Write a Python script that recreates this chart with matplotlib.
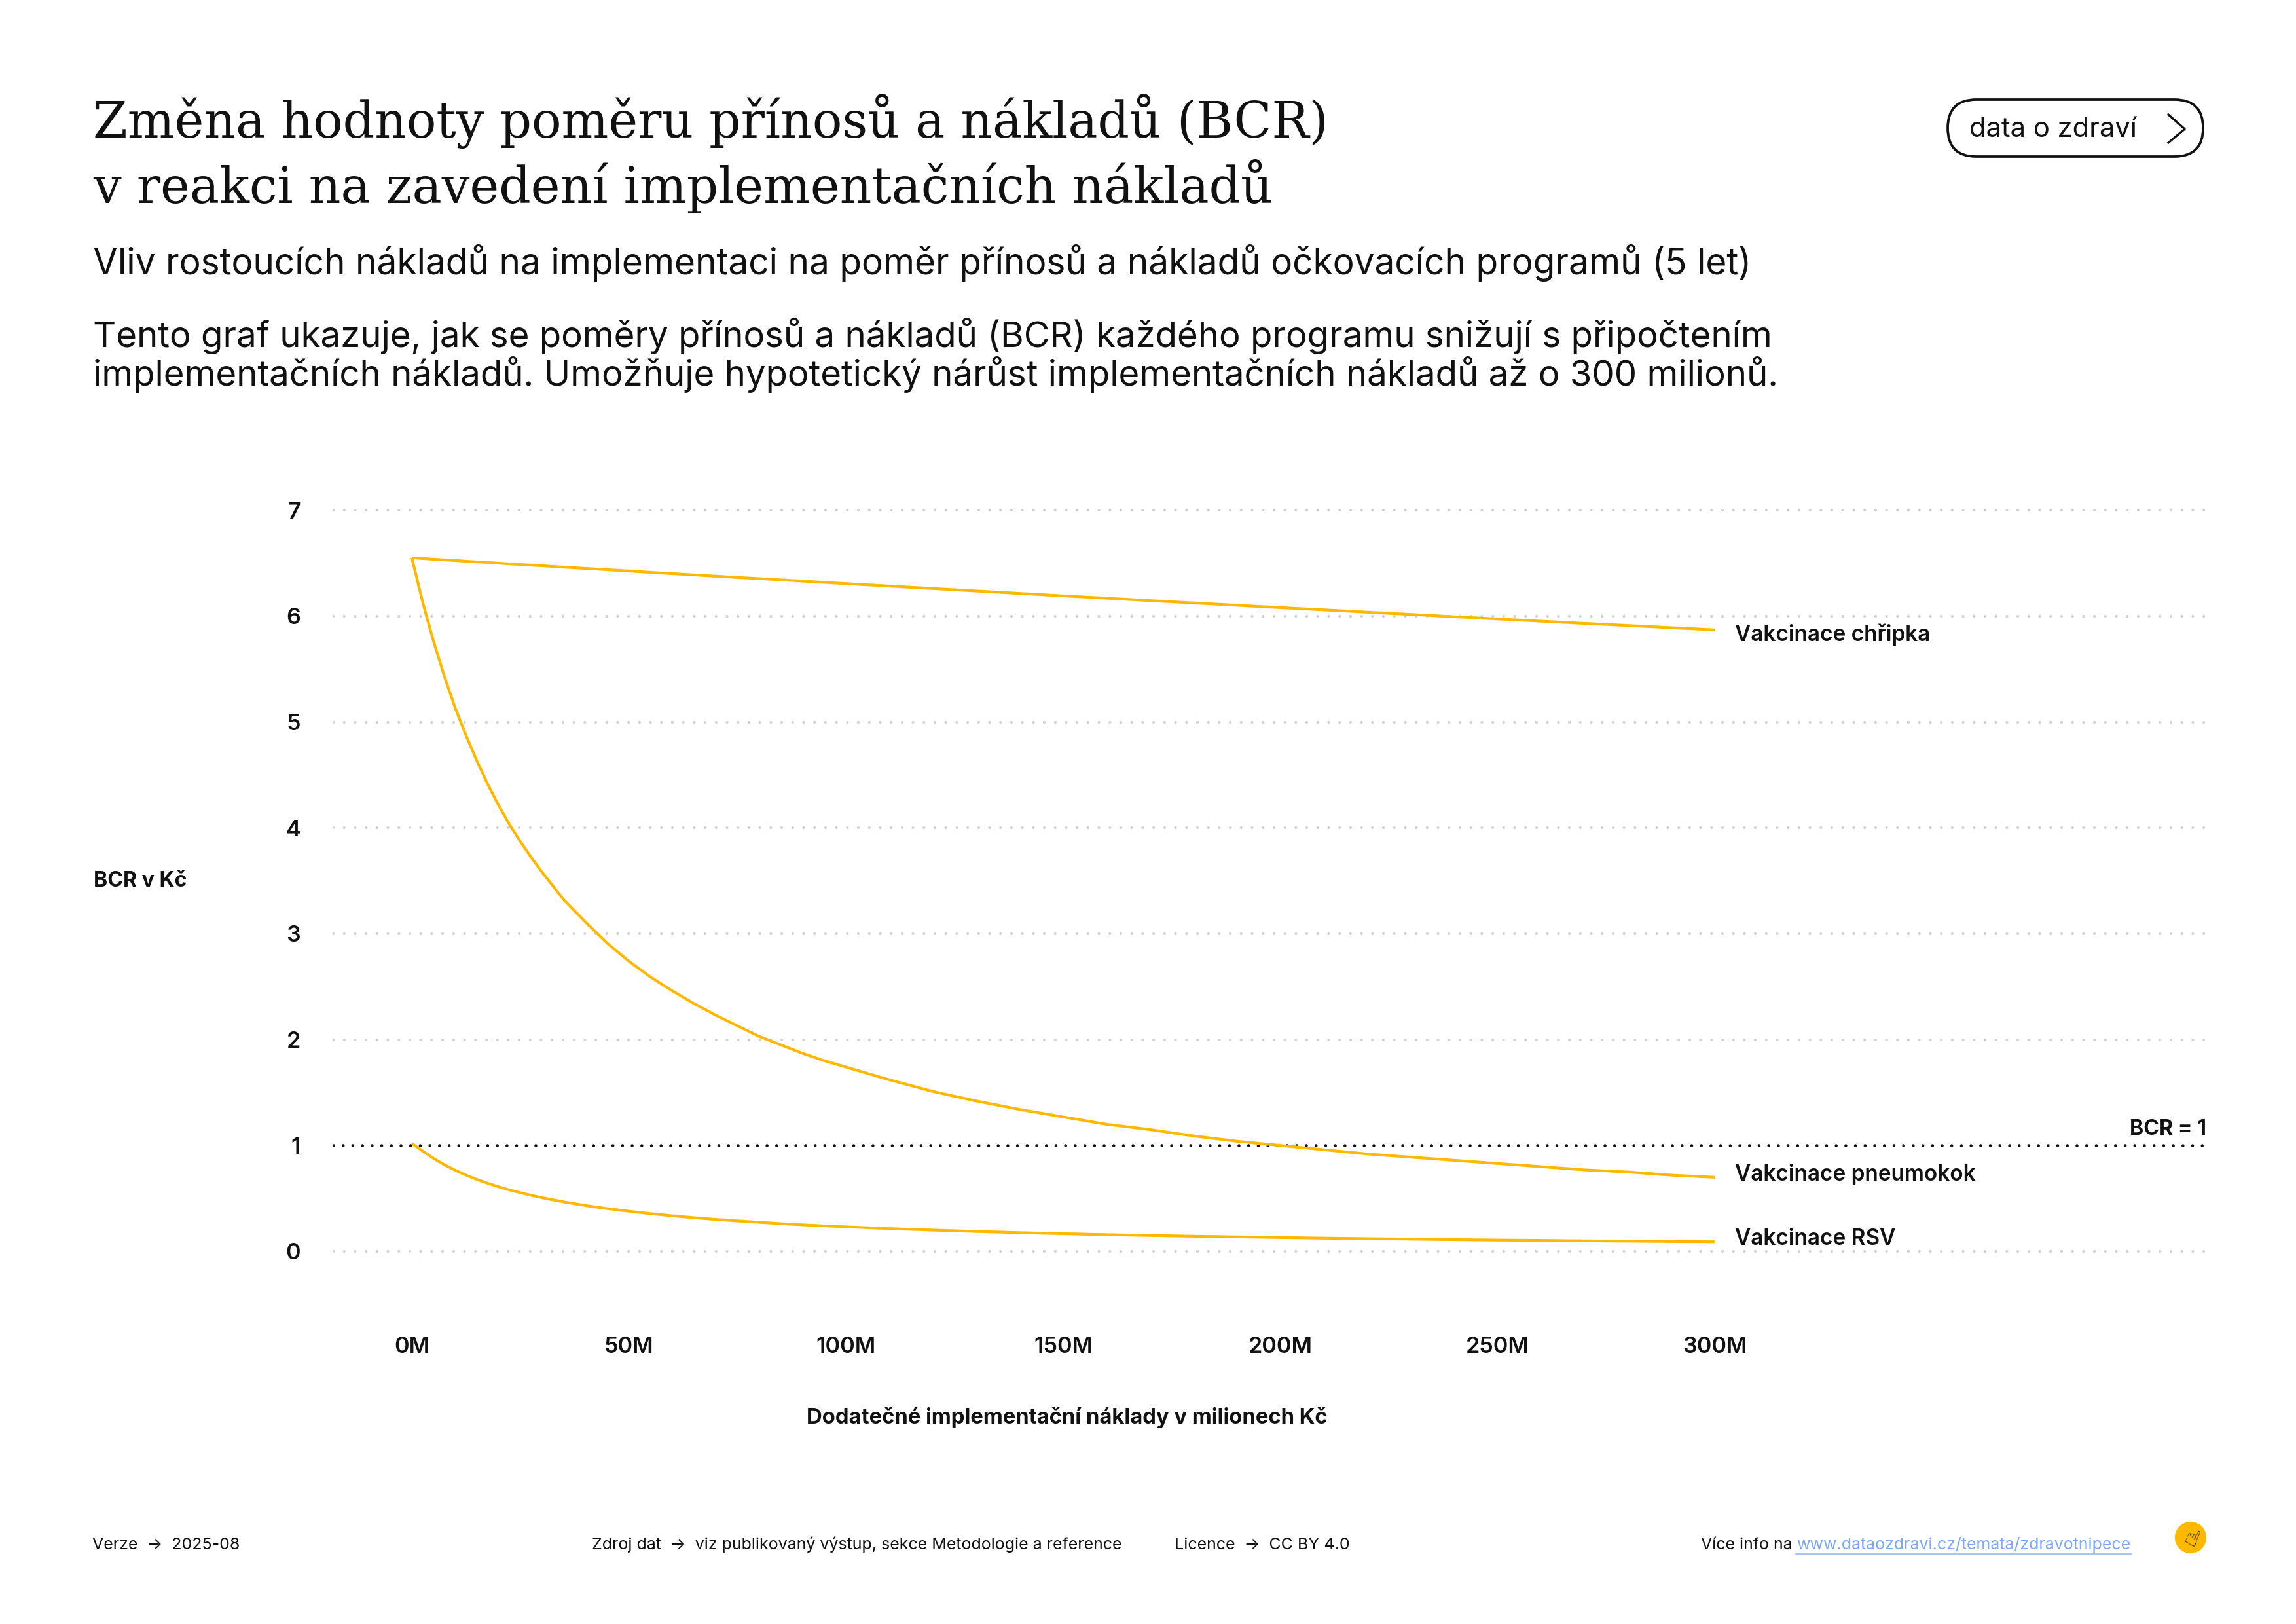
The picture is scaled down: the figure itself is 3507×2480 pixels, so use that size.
import matplotlib
matplotlib.use("Agg")
import matplotlib.pyplot as plt
from matplotlib.patches import FancyBboxPatch, Circle

# ---------------- data ----------------
x_costs = [0, 2.5, 5, 7.5, 10, 12.5, 15, 17.5, 20, 22.5, 25, 27.5, 30, 35, 40, 45,
           50, 55, 60, 65, 70, 75, 80, 85, 90, 95, 100, 110, 120, 130, 140, 150,
           160, 170, 180, 190, 200, 210, 220, 230, 240, 250, 260, 270, 280, 290, 300]
bcr_chripka = [6.550, 6.544, 6.537, 6.531, 6.525, 6.518, 6.512, 6.506, 6.500, 6.493,
               6.487, 6.481, 6.475, 6.462, 6.450, 6.438, 6.426, 6.413, 6.401, 6.389,
               6.377, 6.365, 6.354, 6.342, 6.330, 6.318, 6.306, 6.283, 6.260, 6.237,
               6.214, 6.191, 6.169, 6.146, 6.124, 6.102, 6.080, 6.059, 6.037, 6.016,
               5.994, 5.973, 5.952, 5.931, 5.911, 5.890, 5.870]
bcr_pneumokok = [6.55, 6.13, 5.76, 5.43, 5.13, 4.87, 4.63, 4.41, 4.21, 4.03,
                 3.87, 3.72, 3.58, 3.32, 3.11, 2.91, 2.74, 2.59, 2.46, 2.34,
                 2.23, 2.13, 2.03, 1.95, 1.87, 1.80, 1.74, 1.62, 1.51, 1.42,
                 1.34, 1.27, 1.20, 1.15, 1.09, 1.04, 1.00, 0.96, 0.92, 0.89,
                 0.86, 0.83, 0.80, 0.77, 0.75, 0.72, 0.70]
bcr_rsv = [1.02, 0.948, 0.878, 0.818, 0.766, 0.720, 0.679, 0.643, 0.610, 0.580,
           0.554, 0.529, 0.507, 0.467, 0.433, 0.404, 0.379, 0.356, 0.336, 0.318,
           0.302, 0.288, 0.275, 0.262, 0.251, 0.241, 0.232, 0.215, 0.201, 0.188,
           0.177, 0.167, 0.158, 0.150, 0.143, 0.137, 0.131, 0.125, 0.120, 0.116,
           0.111, 0.107, 0.104, 0.100, 0.097, 0.094, 0.091]
series_names = ["Vakcinace chřipka", "Vakcinace pneumokok", "Vakcinace RSV"]
x_ticks = [0, 50, 100, 150, 200, 250, 300]
x_tick_labels = ["0M", "50M", "100M", "150M", "200M", "250M", "300M"]
y_ticks = [0, 1, 2, 3, 4, 5, 6, 7]
threshold = 1

title_lines = ["Změna hodnoty poměru přínosů a nákladů (BCR)",
               "v reakci na zavedení implementačních nákladů"]
subtitle = "Vliv rostoucích nákladů na implementaci na poměr přínosů a nákladů očkovacích programů (5 let)"
para_lines = ["Tento graf ukazuje, jak se poměry přínosů a nákladů (BCR) každého programu snižují s připočtením",
              "implementačních nákladů. Umožňuje hypotetický nárůst implementačních nákladů až o 300 milionů."]

# ---------------- styling ----------------
W, H = 3507, 2480
DPI = 300
YELLOW = "#FFB800"
SANS = ["Inter", "DejaVu Sans"]
SERIF = ["DejaVu Serif"]
plt.rcParams["font.family"] = SANS

fig = plt.figure(figsize=(W / DPI, H / DPI), dpi=DPI)
fig.patch.set_facecolor("white")

# overlay in pixel coordinates
ov = fig.add_axes([0, 0, 1, 1])
ov.set_xlim(0, W)
ov.set_ylim(H, 0)
ov.axis("off")
ov.patch.set_alpha(0)

# main plot axes (pixel geometry)
L, R = 509, 3370
T, B = 730.6, 2008
ax = fig.add_axes([L / W, 1 - B / H, (R - L) / W, (B - T) / H])
ax.set_xlim(-18.1, 413.2)
ax.set_ylim(-0.6, 7.3)
for s in ax.spines.values():
    s.set_visible(False)
ax.patch.set_alpha(0)

for yv in y_ticks:
    if yv == threshold:
        continue
    ax.axhline(yv, color="#cfcfcf", lw=1.0, linestyle=(0, (0.01, 4.0)),
               dash_capstyle="round", zorder=1)
ax.axhline(threshold, color="#111111", lw=1.1, linestyle=(0, (0.01, 3.2)),
           dash_capstyle="round", zorder=2)
ax.text(413.2, 1.1, "BCR = 1", ha="right", va="baseline", fontsize=7.7,
        fontweight="bold", color="#111111")

label_dy = [-1.7, 1.0, 1.0]
for yvals, name, dy in zip([bcr_chripka, bcr_pneumokok, bcr_rsv], series_names, label_dy):
    ax.plot(x_costs, yvals, color=YELLOW, lw=1.0, solid_capstyle="butt",
            solid_joinstyle="round", zorder=3)
    ax.annotate(name, xy=(x_costs[-1], yvals[-1]), xytext=(7.5, dy),
                textcoords="offset points", ha="left", va="center",
                fontsize=8.0, fontweight="semibold", color="#111111")

ax.set_xticks(x_ticks)
ax.set_xticklabels(x_tick_labels)
ax.set_yticks(y_ticks)
ax.set_yticklabels([str(v) for v in y_ticks])
ax.tick_params(axis="both", length=0, labelsize=8.2, colors="#111111")
ax.tick_params(axis="y", pad=12)
ax.tick_params(axis="x", pad=8)
for lab in ax.get_xticklabels() + ax.get_yticklabels():
    lab.set_fontweight("semibold")

# axis titles
ov.text(143, 1345, "BCR v Kč", ha="left", va="center", fontsize=7.7,
        fontweight="bold", color="#111111")
ov.text(1630, 2165, "Dodatečné implementační náklady v milionech Kč", ha="center",
        va="center", fontsize=7.9, fontweight="bold", color="#111111")

# header
ov.text(142, 210, title_lines[0], family=SERIF, fontsize=18.2, ha="left",
        va="baseline", color="#111111")
ov.text(142, 310, title_lines[1], family=SERIF, fontsize=18.2, ha="left",
        va="baseline", color="#111111")
ov.text(142, 419, subtitle, fontsize=13.2, ha="left", va="baseline", color="#111111")
ov.text(142, 530, para_lines[0], fontsize=13.1, ha="left", va="baseline", color="#111111")
ov.text(142, 589, para_lines[1], fontsize=13.1, ha="left", va="baseline", color="#111111")

# button
btn = FancyBboxPatch((2975, 152), 390, 87, boxstyle="round,pad=0,rounding_size=43.5",
                     fc="white", ec="#111111", lw=0.9)
ov.add_patch(btn)
ov.text(3008, 209, "data o zdraví", fontsize=10, ha="left", va="baseline",
        color="#111111")
ov.plot([3312, 3337, 3312], [175, 197, 218], color="#111111", lw=0.8)

# footer
fy = 2366
fs = 6.0
ov.text(141, fy, "Verze  →  2025-08", fontsize=fs, ha="left", va="baseline",
        color="#111111")
ov.text(904, fy, "Zdroj dat  →  viz publikovaný výstup, sekce Metodologie a reference",
        fontsize=fs, ha="left", va="baseline", color="#111111")
ov.text(1794, fy, "Licence  →  CC BY 4.0", fontsize=fs, ha="left", va="baseline",
        color="#111111")
t1 = ov.text(3254, fy, "www.dataozdravi.cz/temata/zdravotnipece", fontsize=fs,
             ha="right", va="baseline", color="#7FA6F2")
fig.canvas.draw()
bb = t1.get_window_extent()
link_left = bb.x0
ov.plot([link_left, 3254], [fy + 7, fy + 7], color="#A9C3F7", lw=0.9)
ov.text(link_left - 6, fy, "Více info na", fontsize=fs, ha="right", va="baseline",
        color="#111111")

# logo
ov.add_patch(Circle((3346, 2348), 22, color=YELLOW, zorder=5))
ov.text(3347, 2350, "☝", fontsize=8.5, ha="center", va="center", rotation=-25,
        family=["DejaVu Sans"], color="#111111", zorder=6)

fig.savefig("out.png", dpi=DPI, facecolor="white")
